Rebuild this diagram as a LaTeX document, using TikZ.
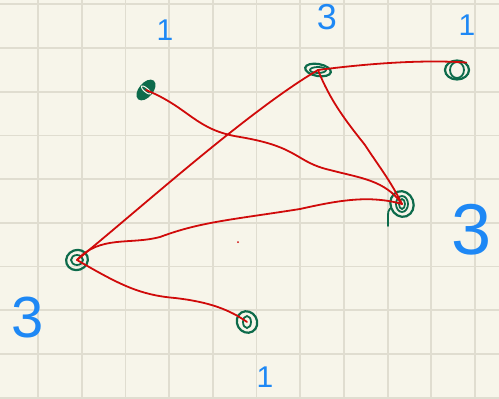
\documentclass[tikz,border=0pt]{standalone}
\usepackage{fontspec}
\setmainfont{Liberation Sans}
\usetikzlibrary{shapes.geometric}
\definecolor{paper}{HTML}{F7F5EA}
\definecolor{gridc}{HTML}{E0DDD0}
\definecolor{inkred}{HTML}{D00A0A}
\definecolor{inkgreen}{HTML}{0D6B4B}
\definecolor{inkblue}{HTML}{1E88F5}
\tikzset{
  vert/.style={ellipse, draw=inkgreen, line width=2.2pt, inner sep=0pt},
  scrib/.style={inkgreen, line width=1.8pt, line cap=round},
  edge/.style={draw=inkred, line width=1.8pt, line cap=round},
  num/.style={text=inkblue, inner sep=0pt, font=\fontsize{30}{30}\selectfont},
}
\begin{document}
\begin{tikzpicture}[x=1pt,y=-1pt]
\fill[paper] (0,0) rectangle (499,399);
\useasboundingbox (0,0) rectangle (499,399);
\foreach \k in {0,...,10} {\draw[gridc, line width=1.8pt] ({38+43.7*\k},0) -- ({38+43.7*\k},399);}
\foreach \k in {0,...,9} {\draw[gridc, line width=1.8pt] (0,{4.3+43.7*\k}) -- (499,{4.3+43.7*\k});}
% vertices
\node[vert, minimum width=22pt, minimum height=12pt, rotate=50, fill=inkgreen] (A) at (146,90) {};
\node[vert, minimum width=26pt, minimum height=12pt, rotate=-10] (B) at (318,70) {};
\node[vert, minimum width=24pt, minimum height=19pt] (C) at (457,70) {};
\node[vert, minimum width=23pt, minimum height=26pt, rotate=20] (D) at (402,204) {};
\node[vert, minimum width=22pt, minimum height=20pt, rotate=20] (E) at (77,260) {};
\node[vert, minimum width=20pt, minimum height=22pt, rotate=30] (F) at (247,322) {};
% inner scribbles
\draw[paper, line width=1pt] (A.center) ellipse [x radius=6, y radius=2, rotate=-40];
\draw[scrib] (B.center) ellipse [x radius=8, y radius=3];
\draw[scrib] (C.center) ellipse [x radius=7, y radius=8];
\draw[scrib] (D.center) ellipse [x radius=6, y radius=8];
\draw[scrib] (D.center) ellipse [x radius=3, y radius=5];
\draw[scrib] (D.west) .. controls (388,210) .. (388,226);
\draw[scrib] (E.center) ellipse [x radius=6, y radius=5];
\draw[scrib] (F.center) ellipse [x radius=4, y radius=6];
% edges
\draw[edge] (A.center) .. controls (190,108) and (195,130) .. (240,137)
  .. controls (300,147) and (295,162) .. (330,170)
  .. controls (360,178) and (385,180) .. (D.center);
\draw[edge] (E.center) .. controls (150,200) and (250,110) .. (B.center);
\draw[edge] (E.center) .. controls (100,235) and (130,245) .. (160,237)
  .. controls (200,222) and (230,220) .. (300,209)
  .. controls (340,200) and (370,195) .. (D.center);
\draw[edge] (E.center) .. controls (120,285) and (140,295) .. (175,298)
  .. controls (210,302) and (230,310) .. (F.center);
\draw[edge] (B.center) .. controls (330,100) and (345,120) .. (365,145)
  .. controls (380,168) and (390,180) .. (D.center);
\draw[edge] (B.center) .. controls (380,62) and (430,60) .. (C.north east);
\fill[inkred] (238,242) circle (1pt);
% labels
\node[num] (lA) at (165,30) {1};
\node[num, font=\fontsize{36}{36}\selectfont] (lB) at (327,17) {3};
\node[num] (lC) at (467,25) {1};
\node[num, font=\fontsize{72}{72}\selectfont] (lD) at (472,230) {3};
\node[num, font=\fontsize{58}{58}\selectfont] (lE) at (28,318) {3};
\node[num] (lF) at (265,377) {1};
\end{tikzpicture}
\end{document}
